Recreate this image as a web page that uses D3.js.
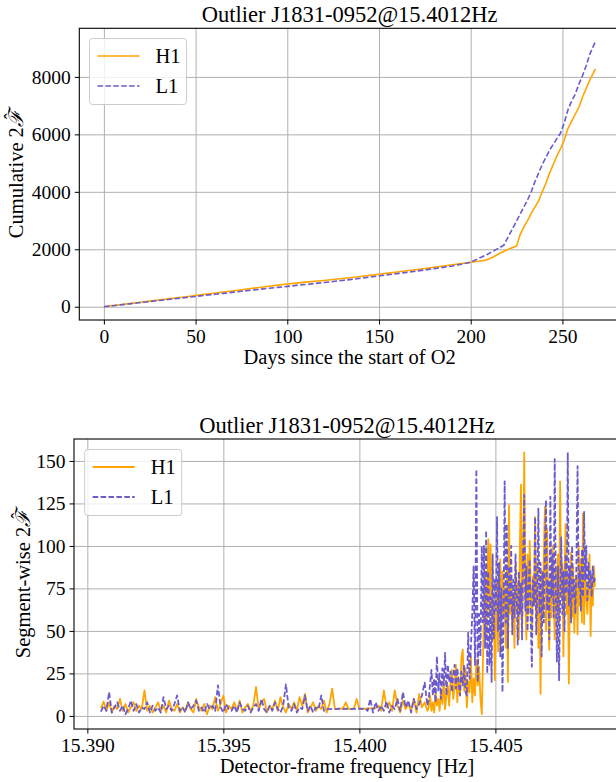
<!DOCTYPE html>
<html>
<head>
<meta charset="utf-8">
<script src="https://cdn.jsdelivr.net/npm/d3@7"></script>
<style>
  body { margin: 0; background: #fff; }
  svg { display: block; }
  text { font-family: "Liberation Serif", "DejaVu Serif", serif; fill: #000; }
</style>
</head>
<body>
<svg id="chart" width="616" height="782"></svg>
<script>
// ---- top panel: cumulative 2F vs days ----
const cumDaysH1 = [0,5,10,15,20,25,30,35,40,45,50,55,60,65,70,75,80,85,90,95,100,105,110,115,120,125,130,135,140,145,150,155,160,165,170,175,180,185,190,195,200,
  205,207,210,213,216,219,222,225,227,229,231,233,235,237,239,241,243,245,247,249,251,253,255,257,259,261,263,265,268];
const cumH1 = [0,40,80,118,157,195,235,272,312,350,390,430,470,510,550,592,632,672,712,752,790,822,855,885,915,948,980,1015,1050,1090,1130,1170,1210,1250,1290,1330,1370,1415,1460,1505,1550,
  1590,1605,1660,1760,1860,1960,2040,2110,2520,2780,3000,3250,3470,3680,4000,4300,4650,4950,5250,5500,5800,6200,6450,6700,6950,7300,7600,7900,8280];

const cumDaysL1 = [0,5,10,15,20,25,30,35,40,45,50,55,60,65,70,75,80,85,90,95,100,105,110,115,120,125,130,135,140,145,150,155,160,165,170,175,180,185,190,195,200,
  203,206,209,212,215,218,220,222,224,226,228,231,233,235,237,239,241,243,245,247,249,251,253,255,257,259,261,263,265,268];
const cumL1 = [0,35,72,108,145,180,215,250,288,322,358,393,430,465,500,537,572,607,642,675,708,742,776,810,843,878,915,952,990,1030,1072,1112,1152,1195,1238,1280,1325,1370,1420,1480,1545,
  1640,1730,1820,1930,2030,2140,2380,2620,2860,3110,3350,3720,4000,4350,4650,4950,5200,5450,5650,5850,6050,6400,6850,7150,7400,7750,8050,8400,8800,9230];

const dayTicks = [0, 50, 100, 150, 200, 250];
const cumTicks = [0, 2000, 4000, 6000, 8000];

// ---- bottom panel: segment-wise 2F vs detector-frame frequency ----
// frequency offsets from 15.39 Hz, in units of 1e-5 Hz
const freqOffsets = [
  50,60,70,80,90,100,110,120,130,140,
  150,160,170,180,190,200,210,220,230,240,
  250,260,270,280,290,300,310,320,330,340,
  350,360,370,380,390,400,410,420,430,440,
  450,460,470,480,490,500,510,520,530,540,
  550,560,570,580,590,600,610,620,630,640,
  650,660,670,680,690,700,710,720,730,740,
  750,760,770,780,790,800,810,820,830,840,
  850,860,870,880,890,900,910,920,930,940,
  950,960,970,980,990,1000,1010,1020,1030,1040,
  1050,1060,1070,1080,1090,1100,1110,1120,1130,1140,
  1150,1160,1170,1180,1190,1200,1210,1220,1230,1240,
  1250,
  1255,1260,1265,1270,1275,1280,1285,1290,1295,1300,
  1305,1310,1315,1320,1325,1330,1335,1340,1345,1350,
  1355,1360,1365,1370,1375,1380,1385,1390,1395,1400,
  1405,1410,1415,1420,1425,1430,1435,1440,1445,1450,
  1454,1458,1462,1466,1470,1474,1478,1482,1486,1490,
  1494,1498,1502,1506,1510,1514,1518,1522,1526,1530,
  1534,1538,1542,1546,1550,1554,1558,1562,1566,1570,
  1574,1578,1582,1586,1590,1594,1598,1602,1606,1610,
  1614,1618,1622,1626,1630,1634,1638,1642,1646,1650,
  1654,1658,1662,1666,1670,1674,1678,1682,1686,1690,
  1694,1698,1702,1706,1710,1714,1718,1722,1726,1730,
  1734,1738,1742,1746,1750,1754,1758,1762,1766,1770,
  1774,1778,1782,1786,1790,1794,1798,1802,1806,1810,
  1814,1818,1822,1826,1830,1834,1838,1842,1846,1850,
  1854,1858,1862,1866
];

const segH1 = [
  4.5,8.5,3,8,2,6,4,10,3,7,
  2,5,8,3,6,4,15,3,6,2,
  5,8,3,6,2,9,4,3,7,2,
  5,3,8,4,2,10,5,3,7,1,
  6,4,11,3,7,12,2,6,4,8,
  3,9,2,5,7,3,6,17,4,8,
  10,2,6,4,9,3,11,5,2,7,
  4,8,3,11,6,13,2,5,8,3,
  6,4,9,2,7,16,4,4.2,4.3,4.5,
  8,4,4.2,4.4,10,4,4.1,4.3,4.2,4.5,
  4.4,4.6,6,3,15,5,8,3,15,6,
  2,9,4,7,3,10,2,13,5,8,
  3,
  5,12,3,8,2,14,6,10,3,15,
  7,22,4,12,18,6,20,27,10,17,
  30,8,22,12,34,39,15,28,5,20,
  14,35,8,22,12,33,18,29,10,1,
  30,62,85,48,78,104,60,101,72,45,
  68,21,55,80,38,66,92,50,85,60,
  75,40,88,20,124,60,80,55,72,40,
  90,62,78,45,100,136,52,88,155,70,
  45,95,60,103,75,50,82,66,117,58,
  90,40,72,13,85,60,95,123,50,110,
  65,39,80,58,100,70,45,88,62,95,
  55,138,70,90,35,80,113,60,85,19,
  75,96,58,88,49,70,82,48,100,65,
  92,55,119,54,85,70,60,78,95,47,
  80,65,88,76
];

const segL1 = [
  2.5,6,3,14,2,5,8,3,6,1,
  4,9,3,7,2,5,4,8,2,6,
  3,5,2,11,4,6,3,7,12,3,
  5,2,8,4,6,9,3,5,2,7,
  4,6,3,18,5,2,7,4,3,6,
  2,8,4,3,6,2,5,7,3,10,
  4,2,6,3,8,4,2,6,18.6,5,
  3,7,2,5,4,12,3,6,2,5,
  4,12,3,4.2,4,4.1,4,4.2,4.1,4,
  4.2,4.1,4,4.2,4.1,4.3,4.2,4.4,3,10,
  2,8,3,6,3,8.5,2,6,4,10,
  3,14,5,9,2,10,4,7,12,19.6,
  6,
  10,19,27,12,22,8,35,15,25,10,
  28,18,37,12,30,20,26,14,24,30,
  16,28,20,12,26,18,30,14,12,49,
  22,41,60,88,30,145,20,60,35,100,
  55,100,40,109,25,85,30,70,20,95,
  45,80,62,117,50,90,35,75,14,60,
  138,55,113,40,88,65,100,48,80,58,
  95,70,42,85,60,78,45,95,130,62,
  88,50,75,92,55,29,80,65,117,48,
  72,122,60,90,35,85,55,100,127,62,
  80,45,129,70,95,58,151,75,32,88,
  21,70,105,60,85,50,95,72,155,65,
  88,55,100,70,80,60,92,147,75,85,
  62,98,70,120,80,100,68,90,75,85,
  70,88,78,81
];

const freqTicks = [15.390, 15.395, 15.400, 15.405];
const segTicks = [0, 25, 50, 75, 100, 125, 150];

const titleText = "Outlier J1831-0952@15.4012Hz";
const colorH1 = "orange";
const colorL1 = "slateblue";

const svg = d3.select("#chart");

function drawPanel(p) {
  const g = svg.append("g");
  const w = p.right - p.left, h = p.bottom - p.top;

  const x = d3.scaleLinear().domain(p.xDomain).range([p.left, p.right]);
  const y = d3.scaleLinear().domain(p.yDomain).range([p.bottom, p.top]);

  // grid
  g.append("g")
    .attr("transform", `translate(0,${p.bottom})`)
    .call(d3.axisBottom(x).tickValues(p.xTicks).tickSize(-h).tickFormat(""))
    .call(a => a.select(".domain").remove())
    .selectAll("line").attr("stroke", "#b0b0b0").attr("stroke-width", 1);
  g.append("g")
    .attr("transform", `translate(${p.left},0)`)
    .call(d3.axisLeft(y).tickValues(p.yTicks).tickSize(-w).tickFormat(""))
    .call(a => a.select(".domain").remove())
    .selectAll("line").attr("stroke", "#b0b0b0").attr("stroke-width", 1);

  const clipId = "clip" + p.id;
  g.append("clipPath").attr("id", clipId)
    .append("rect").attr("x", p.left).attr("y", p.top).attr("width", w).attr("height", h);

  const line = d3.line().x(d => x(d[0])).y(d => y(d[1]));
  const lines = g.append("g").attr("clip-path", `url(#${clipId})`);
  lines.append("path").datum(p.h1)
    .attr("fill", "none").attr("stroke", colorH1).attr("stroke-width", p.lw)
    .attr("stroke-linejoin", "round").attr("d", line);
  lines.append("path").datum(p.l1)
    .attr("fill", "none").attr("stroke", colorL1).attr("stroke-width", p.lw)
    .attr("stroke-dasharray", "5.5,2.4").attr("stroke-linejoin", "round").attr("d", line);

  // axes with ticks and labels
  const xa = g.append("g")
    .attr("transform", `translate(0,${p.bottom})`)
    .call(d3.axisBottom(x).tickValues(p.xTicks).tickSize(4.5).tickPadding(4.5).tickFormat(p.xFormat));
  xa.select(".domain").remove();
  xa.selectAll("text").style("font-size", "19.5px").style("font-family", '"Liberation Serif", serif');
  const ya = g.append("g")
    .attr("transform", `translate(${p.left},0)`)
    .call(d3.axisLeft(y).tickValues(p.yTicks).tickSize(4.5).tickPadding(4).tickFormat(d3.format("d")));
  ya.select(".domain").remove();
  ya.selectAll("text").style("font-size", "19.5px").style("font-family", '"Liberation Serif", serif');

  // frame
  g.append("rect").attr("x", p.left).attr("y", p.top).attr("width", w).attr("height", h)
    .attr("fill", "none").attr("stroke", "#000").attr("stroke-width", 1.1);

  // title and labels
  const cx = (p.left + p.right) / 2;
  g.append("text").attr("x", cx).attr("y", p.titleY).attr("text-anchor", "middle")
    .style("font-size", "22.5px").text(titleText);
  g.append("text").attr("x", cx).attr("y", p.xLabelY).attr("text-anchor", "middle")
    .style("font-size", "20.5px").text(p.xLabel);
  const yl = g.append("text")
    .attr("transform", `translate(${p.yLabelX},${(p.top + p.bottom) / 2}) rotate(-90)`)
    .attr("text-anchor", "middle").style("font-size", "20.5px");
  yl.append("tspan").text(p.yLabel + " 2");
  yl.append("tspan").style("font-style", "italic").text("\u2131");
  yl.append("tspan").attr("dx", "-0.5em").attr("dy", "-0.34em").style("font-size", "18px").text("\u02C6");

  // legend
  const lg = g.append("g").attr("transform", `translate(${p.legend[0]},${p.legend[1]})`);
  lg.append("rect").attr("width", 97).attr("height", 66).attr("rx", 3)
    .attr("fill", "#fff").attr("fill-opacity", 0.8).attr("stroke", "#cccccc").attr("stroke-width", 1);
  [["H1", colorH1, null], ["L1", colorL1, "5.5,2.4"]].forEach((it, i) => {
    const yy = 17.5 + i * 30;
    lg.append("line").attr("x1", 8).attr("x2", 50).attr("y1", yy).attr("y2", yy)
      .attr("stroke", it[1]).attr("stroke-width", p.lw).attr("stroke-dasharray", it[2]);
    lg.append("text").attr("x", 66).attr("y", yy + 7).style("font-size", "20.5px").text(it[0]);
  });
}

drawPanel({
  id: "top", left: 79.3, right: 620, top: 28.3, bottom: 320,
  xDomain: [-13.4, 281.4], yDomain: [-462, 9692],
  xTicks: dayTicks, yTicks: cumTicks, xFormat: d3.format("d"),
  h1: d3.zip(cumDaysH1, cumH1), l1: d3.zip(cumDaysL1, cumL1),
  lw: 1.6, titleY: 22, xLabelY: 364, xLabel: "Days since the start of O2",
  yLabelX: 23, yLabel: "Cumulative", legend: [89.5, 38.5]
});

const segFreqs = freqOffsets.map(o => 15.39 + o * 1e-5);
drawPanel({
  id: "bot", left: 74, right: 620, top: 439, bottom: 729,
  xDomain: [15.38951, 15.40958], yDomain: [-7.7, 162.9],
  xTicks: freqTicks, yTicks: segTicks, xFormat: d3.format(".3f"),
  h1: d3.zip(segFreqs, segH1), l1: d3.zip(segFreqs, segL1),
  lw: 1.8, titleY: 432.5, xLabelY: 773, xLabel: "Detector-frame frequency [Hz]",
  yLabelX: 30, yLabel: "Segment-wise", legend: [84.7, 449.5]
});
</script>
</body>
</html>
